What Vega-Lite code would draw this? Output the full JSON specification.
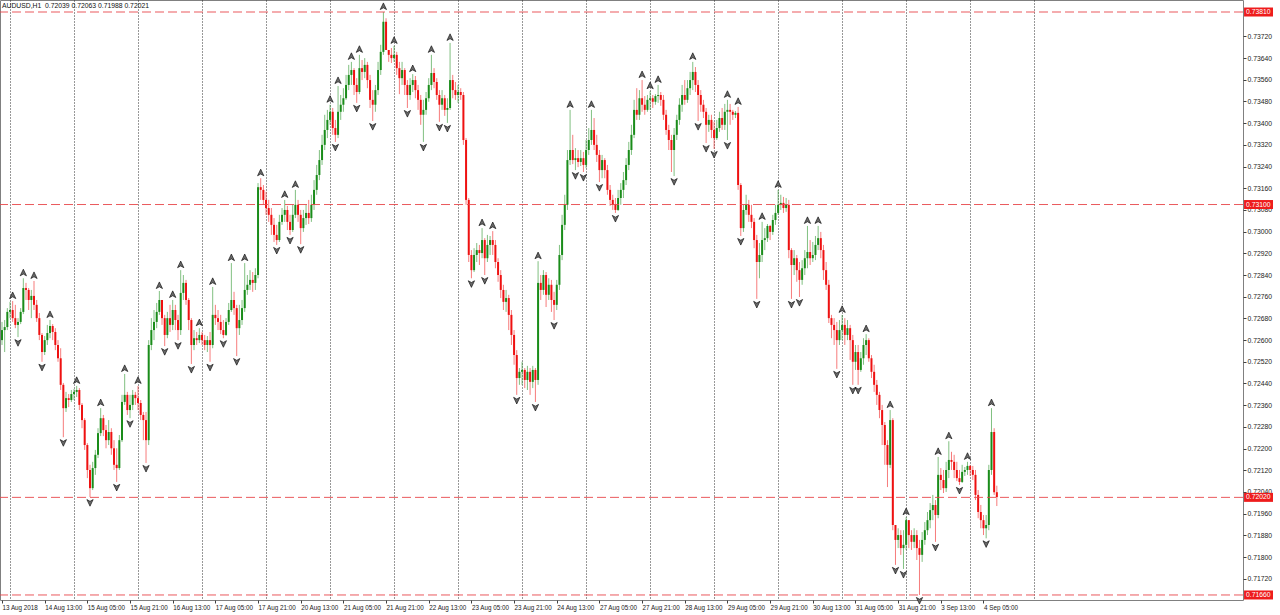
{
"$schema": "https://vega.github.io/schema/vega-lite/v6.json",
"width": 1243, "height": 600,
"autosize": {"type": "none"},
"padding": {"left": 0, "top": 0, "right": 37, "bottom": 15},
"background": "white",
"config": {"view": {"stroke": "#808080", "strokeWidth": 1}, "font": "Liberation Sans"},
"datasets": {
"levels": [{"level": 0.7381}, {"level": 0.731}, {"level": 0.7202}, {"level": 0.7166}],
"info": [{"txt": "AUDUSD,H1\u00a0 0.72039 0.72063 0.71988 0.72021"}],
"ohlc": [
{"i":-3,"o":0.72600,"h":0.72667,"l":0.72582,"c":0.72637},
{"i":-2,"o":0.72637,"h":0.72674,"l":0.72556,"c":0.72648},
{"i":-1,"o":0.72648,"h":0.72718,"l":0.72637,"c":0.72704},
{"i":0,"o":0.72704,"h":0.72741,"l":0.72681,"c":0.72711},
{"i":1,"o":0.72711,"h":0.72744,"l":0.72667,"c":0.72681},
{"i":2,"o":0.72681,"h":0.72730,"l":0.72644,"c":0.72656},
{"i":3,"o":0.72656,"h":0.72681,"l":0.72611,"c":0.72667},
{"i":4,"o":0.72667,"h":0.72718,"l":0.72659,"c":0.72704},
{"i":5,"o":0.72704,"h":0.72828,"l":0.72696,"c":0.72792},
{"i":6,"o":0.72792,"h":0.72811,"l":0.72748,"c":0.72785},
{"i":7,"o":0.72785,"h":0.72792,"l":0.72711,"c":0.72748},
{"i":8,"o":0.72748,"h":0.72785,"l":0.72681,"c":0.72763},
{"i":9,"o":0.72763,"h":0.72818,"l":0.72711,"c":0.72730},
{"i":10,"o":0.72730,"h":0.72748,"l":0.72667,"c":0.72681},
{"i":11,"o":0.72681,"h":0.72700,"l":0.72600,"c":0.72619},
{"i":12,"o":0.72619,"h":0.72626,"l":0.72520,"c":0.72556},
{"i":13,"o":0.72556,"h":0.72615,"l":0.72545,"c":0.72600},
{"i":14,"o":0.72600,"h":0.72656,"l":0.72582,"c":0.72626},
{"i":15,"o":0.72626,"h":0.72674,"l":0.72607,"c":0.72652},
{"i":16,"o":0.72652,"h":0.72659,"l":0.72600,"c":0.72630},
{"i":17,"o":0.72630,"h":0.72644,"l":0.72563,"c":0.72582},
{"i":18,"o":0.72582,"h":0.72600,"l":0.72520,"c":0.72533},
{"i":19,"o":0.72533,"h":0.72570,"l":0.72416,"c":0.72435},
{"i":20,"o":0.72435,"h":0.72442,"l":0.72242,"c":0.72349},
{"i":21,"o":0.72349,"h":0.72409,"l":0.72335,"c":0.72386},
{"i":22,"o":0.72386,"h":0.72401,"l":0.72353,"c":0.72379},
{"i":23,"o":0.72379,"h":0.72416,"l":0.72372,"c":0.72401},
{"i":24,"o":0.72401,"h":0.72420,"l":0.72379,"c":0.72409},
{"i":25,"o":0.72409,"h":0.72431,"l":0.72390,"c":0.72416},
{"i":26,"o":0.72416,"h":0.72423,"l":0.72342,"c":0.72361},
{"i":27,"o":0.72361,"h":0.72368,"l":0.72275,"c":0.72305},
{"i":28,"o":0.72305,"h":0.72312,"l":0.72195,"c":0.72213},
{"i":29,"o":0.72213,"h":0.72220,"l":0.72091,"c":0.72121},
{"i":30,"o":0.72121,"h":0.72140,"l":0.72021,"c":0.72054},
{"i":31,"o":0.72054,"h":0.72151,"l":0.72047,"c":0.72128},
{"i":32,"o":0.72128,"h":0.72195,"l":0.72103,"c":0.72177},
{"i":33,"o":0.72177,"h":0.72275,"l":0.72165,"c":0.72257},
{"i":34,"o":0.72257,"h":0.72349,"l":0.72246,"c":0.72312},
{"i":35,"o":0.72312,"h":0.72324,"l":0.72246,"c":0.72268},
{"i":36,"o":0.72268,"h":0.72287,"l":0.72201,"c":0.72231},
{"i":37,"o":0.72231,"h":0.72305,"l":0.72213,"c":0.72261},
{"i":38,"o":0.72261,"h":0.72275,"l":0.72177,"c":0.72201},
{"i":39,"o":0.72201,"h":0.72231,"l":0.72121,"c":0.72140},
{"i":40,"o":0.72140,"h":0.72201,"l":0.72077,"c":0.72128},
{"i":41,"o":0.72128,"h":0.72250,"l":0.72121,"c":0.72231},
{"i":42,"o":0.72231,"h":0.72398,"l":0.72224,"c":0.72372},
{"i":43,"o":0.72372,"h":0.72475,"l":0.72361,"c":0.72398},
{"i":44,"o":0.72398,"h":0.72409,"l":0.72324,"c":0.72342},
{"i":45,"o":0.72342,"h":0.72398,"l":0.72312,"c":0.72361},
{"i":46,"o":0.72361,"h":0.72416,"l":0.72342,"c":0.72398},
{"i":47,"o":0.72398,"h":0.72409,"l":0.72361,"c":0.72386},
{"i":48,"o":0.72386,"h":0.72431,"l":0.72342,"c":0.72368},
{"i":49,"o":0.72368,"h":0.72379,"l":0.72305,"c":0.72324},
{"i":50,"o":0.72324,"h":0.72335,"l":0.72231,"c":0.72305},
{"i":51,"o":0.72305,"h":0.72335,"l":0.72147,"c":0.72231},
{"i":52,"o":0.72231,"h":0.72600,"l":0.72213,"c":0.72582},
{"i":53,"o":0.72582,"h":0.72681,"l":0.72563,"c":0.72637},
{"i":54,"o":0.72637,"h":0.72711,"l":0.72600,"c":0.72667},
{"i":55,"o":0.72667,"h":0.72737,"l":0.72644,"c":0.72704},
{"i":56,"o":0.72704,"h":0.72781,"l":0.72693,"c":0.72748},
{"i":57,"o":0.72748,"h":0.72748,"l":0.72656,"c":0.72681},
{"i":58,"o":0.72681,"h":0.72693,"l":0.72578,"c":0.72619},
{"i":59,"o":0.72619,"h":0.72704,"l":0.72607,"c":0.72681},
{"i":60,"o":0.72681,"h":0.72730,"l":0.72630,"c":0.72656},
{"i":61,"o":0.72656,"h":0.72748,"l":0.72637,"c":0.72711},
{"i":62,"o":0.72711,"h":0.72730,"l":0.72637,"c":0.72674},
{"i":63,"o":0.72674,"h":0.72693,"l":0.72600,"c":0.72637},
{"i":64,"o":0.72637,"h":0.72858,"l":0.72619,"c":0.72774},
{"i":65,"o":0.72774,"h":0.72840,"l":0.72748,"c":0.72811},
{"i":66,"o":0.72811,"h":0.72822,"l":0.72730,"c":0.72748},
{"i":67,"o":0.72748,"h":0.72755,"l":0.72637,"c":0.72674},
{"i":68,"o":0.72674,"h":0.72681,"l":0.72512,"c":0.72582},
{"i":69,"o":0.72582,"h":0.72637,"l":0.72563,"c":0.72607},
{"i":70,"o":0.72607,"h":0.72630,"l":0.72582,"c":0.72600},
{"i":71,"o":0.72600,"h":0.72644,"l":0.72589,"c":0.72619},
{"i":72,"o":0.72619,"h":0.72630,"l":0.72582,"c":0.72600},
{"i":73,"o":0.72600,"h":0.72619,"l":0.72563,"c":0.72582},
{"i":74,"o":0.72582,"h":0.72615,"l":0.72556,"c":0.72600},
{"i":75,"o":0.72600,"h":0.72630,"l":0.72520,"c":0.72582},
{"i":76,"o":0.72582,"h":0.72796,"l":0.72570,"c":0.72693},
{"i":77,"o":0.72693,"h":0.72730,"l":0.72656,"c":0.72681},
{"i":78,"o":0.72681,"h":0.72711,"l":0.72637,"c":0.72667},
{"i":79,"o":0.72667,"h":0.72693,"l":0.72622,"c":0.72637},
{"i":80,"o":0.72637,"h":0.72674,"l":0.72607,"c":0.72619},
{"i":81,"o":0.72619,"h":0.72681,"l":0.72615,"c":0.72667},
{"i":82,"o":0.72667,"h":0.72737,"l":0.72656,"c":0.72711},
{"i":83,"o":0.72711,"h":0.72884,"l":0.72704,"c":0.72748},
{"i":84,"o":0.72748,"h":0.72778,"l":0.72693,"c":0.72718},
{"i":85,"o":0.72718,"h":0.72730,"l":0.72541,"c":0.72644},
{"i":86,"o":0.72644,"h":0.72730,"l":0.72619,"c":0.72674},
{"i":87,"o":0.72674,"h":0.72748,"l":0.72656,"c":0.72718},
{"i":88,"o":0.72718,"h":0.72884,"l":0.72704,"c":0.72785},
{"i":89,"o":0.72785,"h":0.72840,"l":0.72767,"c":0.72804},
{"i":90,"o":0.72804,"h":0.72858,"l":0.72785,"c":0.72822},
{"i":91,"o":0.72822,"h":0.72851,"l":0.72778,"c":0.72811},
{"i":92,"o":0.72811,"h":0.72865,"l":0.72785,"c":0.72840},
{"i":93,"o":0.72840,"h":0.73179,"l":0.72828,"c":0.73164},
{"i":94,"o":0.73164,"h":0.73197,"l":0.73117,"c":0.73154},
{"i":95,"o":0.73154,"h":0.73172,"l":0.73099,"c":0.73117},
{"i":96,"o":0.73117,"h":0.73147,"l":0.73062,"c":0.73087},
{"i":97,"o":0.73087,"h":0.73117,"l":0.73036,"c":0.73062},
{"i":98,"o":0.73062,"h":0.73087,"l":0.72988,"c":0.73025},
{"i":99,"o":0.73025,"h":0.73050,"l":0.72962,"c":0.72988},
{"i":100,"o":0.72988,"h":0.73025,"l":0.72951,"c":0.72969},
{"i":101,"o":0.72969,"h":0.73062,"l":0.72962,"c":0.73036},
{"i":102,"o":0.73036,"h":0.73087,"l":0.73025,"c":0.73062},
{"i":103,"o":0.73062,"h":0.73117,"l":0.73036,"c":0.73080},
{"i":104,"o":0.73080,"h":0.73095,"l":0.73006,"c":0.73036},
{"i":105,"o":0.73036,"h":0.73062,"l":0.72988,"c":0.73006},
{"i":106,"o":0.73006,"h":0.73099,"l":0.72999,"c":0.73062},
{"i":107,"o":0.73062,"h":0.73154,"l":0.73050,"c":0.73099},
{"i":108,"o":0.73099,"h":0.73117,"l":0.73036,"c":0.73062},
{"i":109,"o":0.73062,"h":0.73080,"l":0.72954,"c":0.73013},
{"i":110,"o":0.73013,"h":0.73080,"l":0.72999,"c":0.73050},
{"i":111,"o":0.73050,"h":0.73099,"l":0.73025,"c":0.73069},
{"i":112,"o":0.73069,"h":0.73117,"l":0.73028,"c":0.73050},
{"i":113,"o":0.73050,"h":0.73136,"l":0.73036,"c":0.73099},
{"i":114,"o":0.73099,"h":0.73190,"l":0.73080,"c":0.73154},
{"i":115,"o":0.73154,"h":0.73246,"l":0.73136,"c":0.73209},
{"i":116,"o":0.73209,"h":0.73301,"l":0.73190,"c":0.73264},
{"i":117,"o":0.73264,"h":0.73357,"l":0.73246,"c":0.73320},
{"i":118,"o":0.73320,"h":0.73431,"l":0.73301,"c":0.73375},
{"i":119,"o":0.73375,"h":0.73449,"l":0.73345,"c":0.73412},
{"i":120,"o":0.73412,"h":0.73468,"l":0.73394,"c":0.73442},
{"i":121,"o":0.73442,"h":0.73456,"l":0.73357,"c":0.73382},
{"i":122,"o":0.73382,"h":0.73412,"l":0.73331,"c":0.73357},
{"i":123,"o":0.73357,"h":0.73537,"l":0.73345,"c":0.73442},
{"i":124,"o":0.73442,"h":0.73504,"l":0.73412,"c":0.73468},
{"i":125,"o":0.73468,"h":0.73529,"l":0.73442,"c":0.73492},
{"i":126,"o":0.73492,"h":0.73578,"l":0.73486,"c":0.73541},
{"i":127,"o":0.73541,"h":0.73615,"l":0.73522,"c":0.73578},
{"i":128,"o":0.73578,"h":0.73626,"l":0.73541,"c":0.73596},
{"i":129,"o":0.73596,"h":0.73603,"l":0.73504,"c":0.73541},
{"i":130,"o":0.73541,"h":0.73566,"l":0.73475,"c":0.73515},
{"i":131,"o":0.73515,"h":0.73652,"l":0.73507,"c":0.73603},
{"i":132,"o":0.73603,"h":0.73633,"l":0.73559,"c":0.73589},
{"i":133,"o":0.73589,"h":0.73640,"l":0.73566,"c":0.73615},
{"i":134,"o":0.73615,"h":0.73626,"l":0.73529,"c":0.73559},
{"i":135,"o":0.73559,"h":0.73578,"l":0.73456,"c":0.73486},
{"i":136,"o":0.73486,"h":0.73522,"l":0.73408,"c":0.73468},
{"i":137,"o":0.73468,"h":0.73541,"l":0.73442,"c":0.73522},
{"i":138,"o":0.73522,"h":0.73626,"l":0.73504,"c":0.73596},
{"i":139,"o":0.73596,"h":0.73689,"l":0.73578,"c":0.73663},
{"i":140,"o":0.73663,"h":0.73810,"l":0.73652,"c":0.73774},
{"i":141,"o":0.73774,"h":0.73787,"l":0.73670,"c":0.73670},
{"i":142,"o":0.73670,"h":0.73670,"l":0.73626,"c":0.73652},
{"i":143,"o":0.73652,"h":0.73677,"l":0.73622,"c":0.73640},
{"i":144,"o":0.73640,"h":0.73685,"l":0.73626,"c":0.73652},
{"i":145,"o":0.73652,"h":0.73663,"l":0.73578,"c":0.73603},
{"i":146,"o":0.73603,"h":0.73626,"l":0.73507,"c":0.73566},
{"i":147,"o":0.73566,"h":0.73626,"l":0.73541,"c":0.73596},
{"i":148,"o":0.73596,"h":0.73603,"l":0.73504,"c":0.73541},
{"i":149,"o":0.73541,"h":0.73559,"l":0.73456,"c":0.73504},
{"i":150,"o":0.73504,"h":0.73566,"l":0.73486,"c":0.73541},
{"i":151,"o":0.73541,"h":0.73581,"l":0.73515,"c":0.73559},
{"i":152,"o":0.73559,"h":0.73574,"l":0.73492,"c":0.73522},
{"i":153,"o":0.73522,"h":0.73541,"l":0.73449,"c":0.73486},
{"i":154,"o":0.73486,"h":0.73504,"l":0.73394,"c":0.73431},
{"i":155,"o":0.73431,"h":0.73486,"l":0.73331,"c":0.73449},
{"i":156,"o":0.73449,"h":0.73515,"l":0.73431,"c":0.73492},
{"i":157,"o":0.73492,"h":0.73566,"l":0.73479,"c":0.73541},
{"i":158,"o":0.73541,"h":0.73652,"l":0.73522,"c":0.73585},
{"i":159,"o":0.73585,"h":0.73603,"l":0.73529,"c":0.73552},
{"i":160,"o":0.73552,"h":0.73566,"l":0.73486,"c":0.73504},
{"i":161,"o":0.73504,"h":0.73522,"l":0.73405,"c":0.73468},
{"i":162,"o":0.73468,"h":0.73522,"l":0.73449,"c":0.73492},
{"i":163,"o":0.73492,"h":0.73504,"l":0.73427,"c":0.73449},
{"i":164,"o":0.73449,"h":0.73492,"l":0.73401,"c":0.73456},
{"i":165,"o":0.73456,"h":0.73696,"l":0.73449,"c":0.73559},
{"i":166,"o":0.73559,"h":0.73578,"l":0.73492,"c":0.73522},
{"i":167,"o":0.73522,"h":0.73552,"l":0.73486,"c":0.73504},
{"i":168,"o":0.73504,"h":0.73541,"l":0.73475,"c":0.73515},
{"i":169,"o":0.73515,"h":0.73529,"l":0.73486,"c":0.73504},
{"i":170,"o":0.73504,"h":0.73515,"l":0.73320,"c":0.73338},
{"i":171,"o":0.73338,"h":0.73345,"l":0.73099,"c":0.73117},
{"i":172,"o":0.73117,"h":0.73124,"l":0.72888,"c":0.72914},
{"i":173,"o":0.72914,"h":0.72932,"l":0.72828,"c":0.72858},
{"i":174,"o":0.72858,"h":0.72939,"l":0.72851,"c":0.72914},
{"i":175,"o":0.72914,"h":0.72958,"l":0.72888,"c":0.72932},
{"i":176,"o":0.72932,"h":0.72951,"l":0.72877,"c":0.72921},
{"i":177,"o":0.72921,"h":0.73013,"l":0.72902,"c":0.72969},
{"i":178,"o":0.72969,"h":0.72976,"l":0.72840,"c":0.72902},
{"i":179,"o":0.72902,"h":0.72988,"l":0.72888,"c":0.72951},
{"i":180,"o":0.72951,"h":0.72984,"l":0.72914,"c":0.72969},
{"i":181,"o":0.72969,"h":0.73002,"l":0.72914,"c":0.72951},
{"i":182,"o":0.72951,"h":0.72969,"l":0.72865,"c":0.72888},
{"i":183,"o":0.72888,"h":0.72902,"l":0.72815,"c":0.72840},
{"i":184,"o":0.72840,"h":0.72858,"l":0.72755,"c":0.72785},
{"i":185,"o":0.72785,"h":0.72804,"l":0.72711,"c":0.72741},
{"i":186,"o":0.72741,"h":0.72785,"l":0.72704,"c":0.72755},
{"i":187,"o":0.72755,"h":0.72767,"l":0.72637,"c":0.72693},
{"i":188,"o":0.72693,"h":0.72711,"l":0.72582,"c":0.72619},
{"i":189,"o":0.72619,"h":0.72637,"l":0.72509,"c":0.72545},
{"i":190,"o":0.72545,"h":0.72563,"l":0.72398,"c":0.72460},
{"i":191,"o":0.72460,"h":0.72497,"l":0.72435,"c":0.72483},
{"i":192,"o":0.72483,"h":0.72520,"l":0.72435,"c":0.72490},
{"i":193,"o":0.72490,"h":0.72497,"l":0.72423,"c":0.72453},
{"i":194,"o":0.72453,"h":0.72505,"l":0.72416,"c":0.72483},
{"i":195,"o":0.72483,"h":0.72497,"l":0.72398,"c":0.72446},
{"i":196,"o":0.72446,"h":0.72505,"l":0.72423,"c":0.72490},
{"i":197,"o":0.72490,"h":0.72497,"l":0.72372,"c":0.72453},
{"i":198,"o":0.72453,"h":0.72891,"l":0.72435,"c":0.72811},
{"i":199,"o":0.72811,"h":0.72840,"l":0.72748,"c":0.72785},
{"i":200,"o":0.72785,"h":0.72858,"l":0.72767,"c":0.72840},
{"i":201,"o":0.72840,"h":0.72851,"l":0.72722,"c":0.72767},
{"i":202,"o":0.72767,"h":0.72828,"l":0.72748,"c":0.72804},
{"i":203,"o":0.72804,"h":0.72822,"l":0.72704,"c":0.72748},
{"i":204,"o":0.72748,"h":0.72778,"l":0.72674,"c":0.72730},
{"i":205,"o":0.72730,"h":0.72822,"l":0.72711,"c":0.72804},
{"i":206,"o":0.72804,"h":0.72951,"l":0.72785,"c":0.72914},
{"i":207,"o":0.72914,"h":0.73062,"l":0.72895,"c":0.73025},
{"i":208,"o":0.73025,"h":0.73136,"l":0.73006,"c":0.73099},
{"i":209,"o":0.73099,"h":0.73301,"l":0.73080,"c":0.73264},
{"i":210,"o":0.73264,"h":0.73449,"l":0.73246,"c":0.73301},
{"i":211,"o":0.73301,"h":0.73357,"l":0.73249,"c":0.73264},
{"i":212,"o":0.73264,"h":0.73308,"l":0.73227,"c":0.73271},
{"i":213,"o":0.73271,"h":0.73301,"l":0.73238,"c":0.73257},
{"i":214,"o":0.73257,"h":0.73301,"l":0.73242,"c":0.73271},
{"i":215,"o":0.73271,"h":0.73294,"l":0.73220,"c":0.73246},
{"i":216,"o":0.73246,"h":0.73338,"l":0.73234,"c":0.73301},
{"i":217,"o":0.73301,"h":0.73382,"l":0.73283,"c":0.73338},
{"i":218,"o":0.73338,"h":0.73449,"l":0.73320,"c":0.73375},
{"i":219,"o":0.73375,"h":0.73419,"l":0.73301,"c":0.73320},
{"i":220,"o":0.73320,"h":0.73357,"l":0.73257,"c":0.73283},
{"i":221,"o":0.73283,"h":0.73301,"l":0.73183,"c":0.73227},
{"i":222,"o":0.73227,"h":0.73283,"l":0.73197,"c":0.73264},
{"i":223,"o":0.73264,"h":0.73271,"l":0.73197,"c":0.73227},
{"i":224,"o":0.73227,"h":0.73246,"l":0.73136,"c":0.73154},
{"i":225,"o":0.73154,"h":0.73172,"l":0.73095,"c":0.73117},
{"i":226,"o":0.73117,"h":0.73136,"l":0.73080,"c":0.73099},
{"i":227,"o":0.73099,"h":0.73124,"l":0.73069,"c":0.73080},
{"i":228,"o":0.73080,"h":0.73154,"l":0.73076,"c":0.73124},
{"i":229,"o":0.73124,"h":0.73179,"l":0.73099,"c":0.73154},
{"i":230,"o":0.73154,"h":0.73220,"l":0.73124,"c":0.73190},
{"i":231,"o":0.73190,"h":0.73271,"l":0.73172,"c":0.73246},
{"i":232,"o":0.73246,"h":0.73331,"l":0.73227,"c":0.73301},
{"i":233,"o":0.73301,"h":0.73394,"l":0.73283,"c":0.73357},
{"i":234,"o":0.73357,"h":0.73486,"l":0.73345,"c":0.73449},
{"i":235,"o":0.73449,"h":0.73529,"l":0.73412,"c":0.73431},
{"i":236,"o":0.73431,"h":0.73522,"l":0.73412,"c":0.73492},
{"i":237,"o":0.73492,"h":0.73559,"l":0.73442,"c":0.73468},
{"i":238,"o":0.73468,"h":0.73500,"l":0.73431,"c":0.73449},
{"i":239,"o":0.73449,"h":0.73504,"l":0.73442,"c":0.73486},
{"i":240,"o":0.73486,"h":0.73518,"l":0.73449,"c":0.73492},
{"i":241,"o":0.73492,"h":0.73504,"l":0.73456,"c":0.73479},
{"i":242,"o":0.73479,"h":0.73507,"l":0.73468,"c":0.73500},
{"i":243,"o":0.73500,"h":0.73541,"l":0.73475,"c":0.73504},
{"i":244,"o":0.73504,"h":0.73515,"l":0.73464,"c":0.73486},
{"i":245,"o":0.73486,"h":0.73504,"l":0.73412,"c":0.73431},
{"i":246,"o":0.73431,"h":0.73449,"l":0.73357,"c":0.73375},
{"i":247,"o":0.73375,"h":0.73394,"l":0.73301,"c":0.73338},
{"i":248,"o":0.73338,"h":0.73357,"l":0.73220,"c":0.73301},
{"i":249,"o":0.73301,"h":0.73382,"l":0.73205,"c":0.73357},
{"i":250,"o":0.73357,"h":0.73431,"l":0.73338,"c":0.73412},
{"i":251,"o":0.73412,"h":0.73492,"l":0.73394,"c":0.73468},
{"i":252,"o":0.73468,"h":0.73541,"l":0.73442,"c":0.73504},
{"i":253,"o":0.73504,"h":0.73559,"l":0.73468,"c":0.73486},
{"i":254,"o":0.73486,"h":0.73559,"l":0.73475,"c":0.73529},
{"i":255,"o":0.73529,"h":0.73589,"l":0.73504,"c":0.73559},
{"i":256,"o":0.73559,"h":0.73626,"l":0.73522,"c":0.73589},
{"i":257,"o":0.73589,"h":0.73607,"l":0.73515,"c":0.73541},
{"i":258,"o":0.73541,"h":0.73559,"l":0.73408,"c":0.73504},
{"i":259,"o":0.73504,"h":0.73522,"l":0.73442,"c":0.73468},
{"i":260,"o":0.73468,"h":0.73486,"l":0.73419,"c":0.73442},
{"i":261,"o":0.73442,"h":0.73456,"l":0.73327,"c":0.73394},
{"i":262,"o":0.73394,"h":0.73431,"l":0.73368,"c":0.73412},
{"i":263,"o":0.73412,"h":0.73431,"l":0.73345,"c":0.73375},
{"i":264,"o":0.73375,"h":0.73405,"l":0.73305,"c":0.73345},
{"i":265,"o":0.73345,"h":0.73412,"l":0.73338,"c":0.73382},
{"i":266,"o":0.73382,"h":0.73442,"l":0.73368,"c":0.73419},
{"i":267,"o":0.73419,"h":0.73456,"l":0.73375,"c":0.73394},
{"i":268,"o":0.73394,"h":0.73471,"l":0.73375,"c":0.73442},
{"i":269,"o":0.73442,"h":0.73486,"l":0.73338,"c":0.73449},
{"i":270,"o":0.73449,"h":0.73471,"l":0.73394,"c":0.73442},
{"i":271,"o":0.73442,"h":0.73449,"l":0.73412,"c":0.73431},
{"i":272,"o":0.73431,"h":0.73445,"l":0.73419,"c":0.73438},
{"i":273,"o":0.73438,"h":0.73460,"l":0.73154,"c":0.73172},
{"i":274,"o":0.73172,"h":0.73179,"l":0.72984,"c":0.73013},
{"i":275,"o":0.73013,"h":0.73099,"l":0.72999,"c":0.73080},
{"i":276,"o":0.73080,"h":0.73136,"l":0.73062,"c":0.73099},
{"i":277,"o":0.73099,"h":0.73117,"l":0.73036,"c":0.73062},
{"i":278,"o":0.73062,"h":0.73099,"l":0.73013,"c":0.73036},
{"i":279,"o":0.73036,"h":0.73050,"l":0.72939,"c":0.72969},
{"i":280,"o":0.72969,"h":0.72988,"l":0.72752,"c":0.72888},
{"i":281,"o":0.72888,"h":0.72958,"l":0.72828,"c":0.72914},
{"i":282,"o":0.72914,"h":0.73036,"l":0.72888,"c":0.72969},
{"i":283,"o":0.72969,"h":0.73013,"l":0.72932,"c":0.72976},
{"i":284,"o":0.72976,"h":0.73028,"l":0.72962,"c":0.73021},
{"i":285,"o":0.73021,"h":0.73025,"l":0.72969,"c":0.72999},
{"i":286,"o":0.72999,"h":0.73062,"l":0.72988,"c":0.73043},
{"i":287,"o":0.73043,"h":0.73099,"l":0.73025,"c":0.73069},
{"i":288,"o":0.73069,"h":0.73154,"l":0.73062,"c":0.73099},
{"i":289,"o":0.73099,"h":0.73136,"l":0.73080,"c":0.73106},
{"i":290,"o":0.73106,"h":0.73128,"l":0.73069,"c":0.73087},
{"i":291,"o":0.73087,"h":0.73124,"l":0.73073,"c":0.73099},
{"i":292,"o":0.73099,"h":0.73117,"l":0.72902,"c":0.72932},
{"i":293,"o":0.72932,"h":0.72939,"l":0.72752,"c":0.72877},
{"i":294,"o":0.72877,"h":0.72932,"l":0.72840,"c":0.72902},
{"i":295,"o":0.72902,"h":0.72914,"l":0.72815,"c":0.72858},
{"i":296,"o":0.72858,"h":0.72888,"l":0.72759,"c":0.72822},
{"i":297,"o":0.72822,"h":0.72895,"l":0.72804,"c":0.72865},
{"i":298,"o":0.72865,"h":0.72932,"l":0.72840,"c":0.72902},
{"i":299,"o":0.72902,"h":0.73021,"l":0.72865,"c":0.72925},
{"i":300,"o":0.72925,"h":0.72969,"l":0.72877,"c":0.72902},
{"i":301,"o":0.72902,"h":0.72962,"l":0.72888,"c":0.72914},
{"i":302,"o":0.72914,"h":0.72984,"l":0.72895,"c":0.72951},
{"i":303,"o":0.72951,"h":0.73021,"l":0.72932,"c":0.72976},
{"i":304,"o":0.72976,"h":0.72999,"l":0.72902,"c":0.72932},
{"i":305,"o":0.72932,"h":0.72951,"l":0.72822,"c":0.72858},
{"i":306,"o":0.72858,"h":0.72888,"l":0.72785,"c":0.72804},
{"i":307,"o":0.72804,"h":0.72822,"l":0.72663,"c":0.72681},
{"i":308,"o":0.72681,"h":0.72693,"l":0.72607,"c":0.72656},
{"i":309,"o":0.72656,"h":0.72681,"l":0.72582,"c":0.72637},
{"i":310,"o":0.72637,"h":0.72667,"l":0.72494,"c":0.72600},
{"i":311,"o":0.72600,"h":0.72674,"l":0.72582,"c":0.72637},
{"i":312,"o":0.72637,"h":0.72693,"l":0.72600,"c":0.72656},
{"i":313,"o":0.72656,"h":0.72681,"l":0.72582,"c":0.72619},
{"i":314,"o":0.72619,"h":0.72674,"l":0.72600,"c":0.72644},
{"i":315,"o":0.72644,"h":0.72656,"l":0.72527,"c":0.72600},
{"i":316,"o":0.72600,"h":0.72619,"l":0.72435,"c":0.72520},
{"i":317,"o":0.72520,"h":0.72582,"l":0.72490,"c":0.72556},
{"i":318,"o":0.72556,"h":0.72582,"l":0.72435,"c":0.72490},
{"i":319,"o":0.72490,"h":0.72556,"l":0.72483,"c":0.72533},
{"i":320,"o":0.72533,"h":0.72607,"l":0.72509,"c":0.72582},
{"i":321,"o":0.72582,"h":0.72622,"l":0.72545,"c":0.72600},
{"i":322,"o":0.72600,"h":0.72607,"l":0.72520,"c":0.72533},
{"i":323,"o":0.72533,"h":0.72545,"l":0.72460,"c":0.72483},
{"i":324,"o":0.72483,"h":0.72509,"l":0.72409,"c":0.72435},
{"i":325,"o":0.72435,"h":0.72453,"l":0.72361,"c":0.72398},
{"i":326,"o":0.72398,"h":0.72409,"l":0.72312,"c":0.72342},
{"i":327,"o":0.72342,"h":0.72361,"l":0.72213,"c":0.72287},
{"i":328,"o":0.72287,"h":0.72298,"l":0.72140,"c":0.72213},
{"i":329,"o":0.72213,"h":0.72231,"l":0.72058,"c":0.72140},
{"i":330,"o":0.72140,"h":0.72342,"l":0.72128,"c":0.72305},
{"i":331,"o":0.72305,"h":0.72312,"l":0.71899,"c":0.71918},
{"i":332,"o":0.71918,"h":0.71918,"l":0.71771,"c":0.71863},
{"i":333,"o":0.71863,"h":0.71906,"l":0.71833,"c":0.71881},
{"i":334,"o":0.71881,"h":0.71899,"l":0.71808,"c":0.71833},
{"i":335,"o":0.71833,"h":0.71899,"l":0.71756,"c":0.71845},
{"i":336,"o":0.71845,"h":0.71947,"l":0.71826,"c":0.71936},
{"i":337,"o":0.71936,"h":0.71936,"l":0.71833,"c":0.71881},
{"i":338,"o":0.71881,"h":0.71899,"l":0.71826,"c":0.71856},
{"i":339,"o":0.71856,"h":0.71906,"l":0.71833,"c":0.71881},
{"i":340,"o":0.71881,"h":0.71899,"l":0.71789,"c":0.71833},
{"i":341,"o":0.71833,"h":0.71863,"l":0.71660,"c":0.71808},
{"i":342,"o":0.71808,"h":0.71892,"l":0.71782,"c":0.71863},
{"i":343,"o":0.71863,"h":0.71929,"l":0.71845,"c":0.71899},
{"i":344,"o":0.71899,"h":0.71966,"l":0.71881,"c":0.71936},
{"i":345,"o":0.71936,"h":0.71999,"l":0.71906,"c":0.71973},
{"i":346,"o":0.71973,"h":0.72029,"l":0.71936,"c":0.71992},
{"i":347,"o":0.71992,"h":0.72010,"l":0.71856,"c":0.71955},
{"i":348,"o":0.71955,"h":0.72169,"l":0.71943,"c":0.72103},
{"i":349,"o":0.72103,"h":0.72128,"l":0.72047,"c":0.72084},
{"i":350,"o":0.72084,"h":0.72121,"l":0.72036,"c":0.72054},
{"i":351,"o":0.72054,"h":0.72151,"l":0.72040,"c":0.72121},
{"i":352,"o":0.72121,"h":0.72227,"l":0.72091,"c":0.72158},
{"i":353,"o":0.72158,"h":0.72188,"l":0.72121,"c":0.72151},
{"i":354,"o":0.72151,"h":0.72177,"l":0.72091,"c":0.72121},
{"i":355,"o":0.72121,"h":0.72151,"l":0.72080,"c":0.72091},
{"i":356,"o":0.72091,"h":0.72121,"l":0.72066,"c":0.72077},
{"i":357,"o":0.72077,"h":0.72140,"l":0.72073,"c":0.72114},
{"i":358,"o":0.72114,"h":0.72132,"l":0.72099,"c":0.72121},
{"i":359,"o":0.72121,"h":0.72151,"l":0.72103,"c":0.72136},
{"i":360,"o":0.72136,"h":0.72140,"l":0.72099,"c":0.72121},
{"i":361,"o":0.72121,"h":0.72136,"l":0.72084,"c":0.72103},
{"i":362,"o":0.72103,"h":0.72121,"l":0.72010,"c":0.72029},
{"i":363,"o":0.72029,"h":0.72047,"l":0.71943,"c":0.71966},
{"i":364,"o":0.71966,"h":0.71992,"l":0.71906,"c":0.71936},
{"i":365,"o":0.71936,"h":0.71955,"l":0.71881,"c":0.71906},
{"i":366,"o":0.71906,"h":0.71955,"l":0.71869,"c":0.71918},
{"i":367,"o":0.71918,"h":0.72140,"l":0.71899,"c":0.72121},
{"i":368,"o":0.72121,"h":0.72349,"l":0.72103,"c":0.72261},
{"i":369,"o":0.72261,"h":0.72275,"l":0.72029,"c":0.72039},
{"i":370,"o":0.72039,"h":0.72063,"l":0.71988,"c":0.72021}
]},
"layer": [
{
"data": {"name": "ohlc"},
"mark": {"type": "rule", "strokeWidth": 1, "opacity": 0.55},
"encoding": {
"x": {"field": "i", "type": "quantitative", "title": null,
"scale": {"domain": [-3.75, 462.3], "nice": false, "zero": false},
"axis": {"orient": "bottom", "domain": false, "tickCount": 500,
"values": [-3,0,13,24,29,45,48,61,72,77,93,96,109,120,125,141,144,157,168,173,189,192,205,216,221,237,240,253,264,269,285,288,301,312,317,333,336,349,360,365,384],
"labelExpr": "(datum.value + 3) % 16 == 0 ? ['13 Aug 2018','14 Aug 13:00','15 Aug 05:00','15 Aug 21:00','16 Aug 13:00','17 Aug 05:00','17 Aug 21:00','20 Aug 13:00','21 Aug 05:00','21 Aug 21:00','22 Aug 13:00','23 Aug 05:00','23 Aug 21:00','24 Aug 13:00','27 Aug 05:00','27 Aug 21:00','28 Aug 13:00','29 Aug 05:00','29 Aug 21:00','30 Aug 13:00','31 Aug 05:00','31 Aug 21:00','3 Sep 13:00','4 Sep 05:00'][(datum.value + 3) / 16] : ''",
"grid": true, "gridDash": [1, 2], "gridColor": "#303030", "gridWidth": 1,
"gridOpacity": {"condition": {"test": "datum.value % 24 == 0", "value": 1}, "value": 0},
"ticks": true, "tickSize": 3, "tickColor": "#404040",
"tickOpacity": {"condition": {"test": "datum.value % 24 == 0", "value": 0}, "value": 1},
"labelAlign": "left", "labelBaseline": "top", "labelPadding": 1,
"labelFont": "Liberation Sans", "labelFontSize": 6.3, "labelColor": "#222222",
"labelOverlap": false, "labelFlush": false}},
"y": {"field": "l", "type": "quantitative", "title": null,
"scale": {"domain": [0.716415, 0.738543], "nice": false, "zero": false},
"axis": {"orient": "right", "domain": false, "grid": false, "tickCount": 500,
"values": [0.7172,0.718,0.7188,0.7196,0.7204,0.7212,0.722,0.7228,0.7236,0.7244,0.7252,0.726,0.7268,0.7276,0.7284,0.7292,0.73,0.7308,0.7316,0.7324,0.7332,0.734,0.7348,0.7356,0.7364,0.7372],
"format": ".5f", "tickSize": 3, "tickColor": "#404040", "labelPadding": 1,
"labelFont": "Liberation Sans", "labelFontSize": 6.8, "labelColor": "#222222",
"labelOverlap": false, "labelFlush": false}},
"y2": {"field": "h"},
"color": {"condition": {"test": "datum.c >= datum.o", "value": "#1a8c1a"}, "value": "#ee1111"}
}
},
{
"data": {"name": "ohlc"},
"mark": {"type": "rule", "strokeWidth": 2, "strokeCap": "butt"},
"encoding": {
"x": {"field": "i", "type": "quantitative", "title": null},
"y": {"field": "o", "type": "quantitative", "title": null},
"y2": {"field": "c"},
"color": {"condition": {"test": "datum.c >= datum.o", "value": "#1a8c1a"}, "value": "#ee1111"}
}
},
{
"data": {"name": "ohlc"},
"transform": [
{"window": [{"op": "max", "field": "h", "as": "mh"}, {"op": "count", "as": "n"}], "frame": [-2, 2], "sort": [{"field": "i"}]},
{"filter": "datum.n == 5 && datum.h == datum.mh"}
],
"mark": {"type": "point", "shape": "M0,-2.6L0.9,-0.7L0,-1.2L-0.9,-0.7Z", "size": 49, "filled": true, "fill": "#6a6a6a", "stroke": "#000000", "strokeWidth": 0.6, "opacity": 1},
"encoding": {
"x": {"field": "i", "type": "quantitative", "title": null},
"y": {"field": "h", "type": "quantitative", "title": null}
}
},
{
"data": {"name": "ohlc"},
"transform": [
{"window": [{"op": "min", "field": "l", "as": "ml"}, {"op": "count", "as": "n"}], "frame": [-2, 2], "sort": [{"field": "i"}]},
{"filter": "datum.n == 5 && datum.l == datum.ml"}
],
"mark": {"type": "point", "shape": "M0,2.6L0.9,0.7L0,1.2L-0.9,0.7Z", "size": 49, "filled": true, "fill": "#6a6a6a", "stroke": "#000000", "strokeWidth": 0.6, "opacity": 1},
"encoding": {
"x": {"field": "i", "type": "quantitative", "title": null},
"y": {"field": "l", "type": "quantitative", "title": null}
}
},
{
"data": {"name": "levels"},
"mark": {"type": "rule", "color": "#e8474b", "strokeWidth": 1, "strokeDash": [9, 4], "opacity": 0.9},
"encoding": {
"y": {"field": "level", "type": "quantitative", "title": null}
}
},
{
"data": {"name": "levels"},
"mark": {"type": "point", "shape": "M0.07,-0.3H2V0.3H0.07Z", "size": 900, "filled": true, "fill": "#ee1c1c", "strokeWidth": 0, "opacity": 1},
"encoding": {
"x": {"datum": 462.3, "type": "quantitative"},
"y": {"field": "level", "type": "quantitative", "title": null}
}
},
{
"data": {"name": "levels"},
"mark": {"type": "text", "align": "left", "baseline": "middle", "dx": 3, "font": "Liberation Sans", "fontSize": 6.8, "color": "#ffffff"},
"encoding": {
"x": {"datum": 462.3, "type": "quantitative"},
"y": {"field": "level", "type": "quantitative", "title": null},
"text": {"field": "level", "type": "quantitative", "format": ".5f"}
}
},
{
"data": {"name": "info"},
"mark": {"type": "text", "align": "left", "baseline": "middle", "dx": 2, "dy": 6, "font": "Liberation Sans", "fontSize": 6.8, "color": "#111111"},
"encoding": {
"x": {"datum": -3.75, "type": "quantitative"},
"y": {"datum": 0.738543, "type": "quantitative"},
"text": {"field": "txt", "type": "nominal"}
}
}
]
}
